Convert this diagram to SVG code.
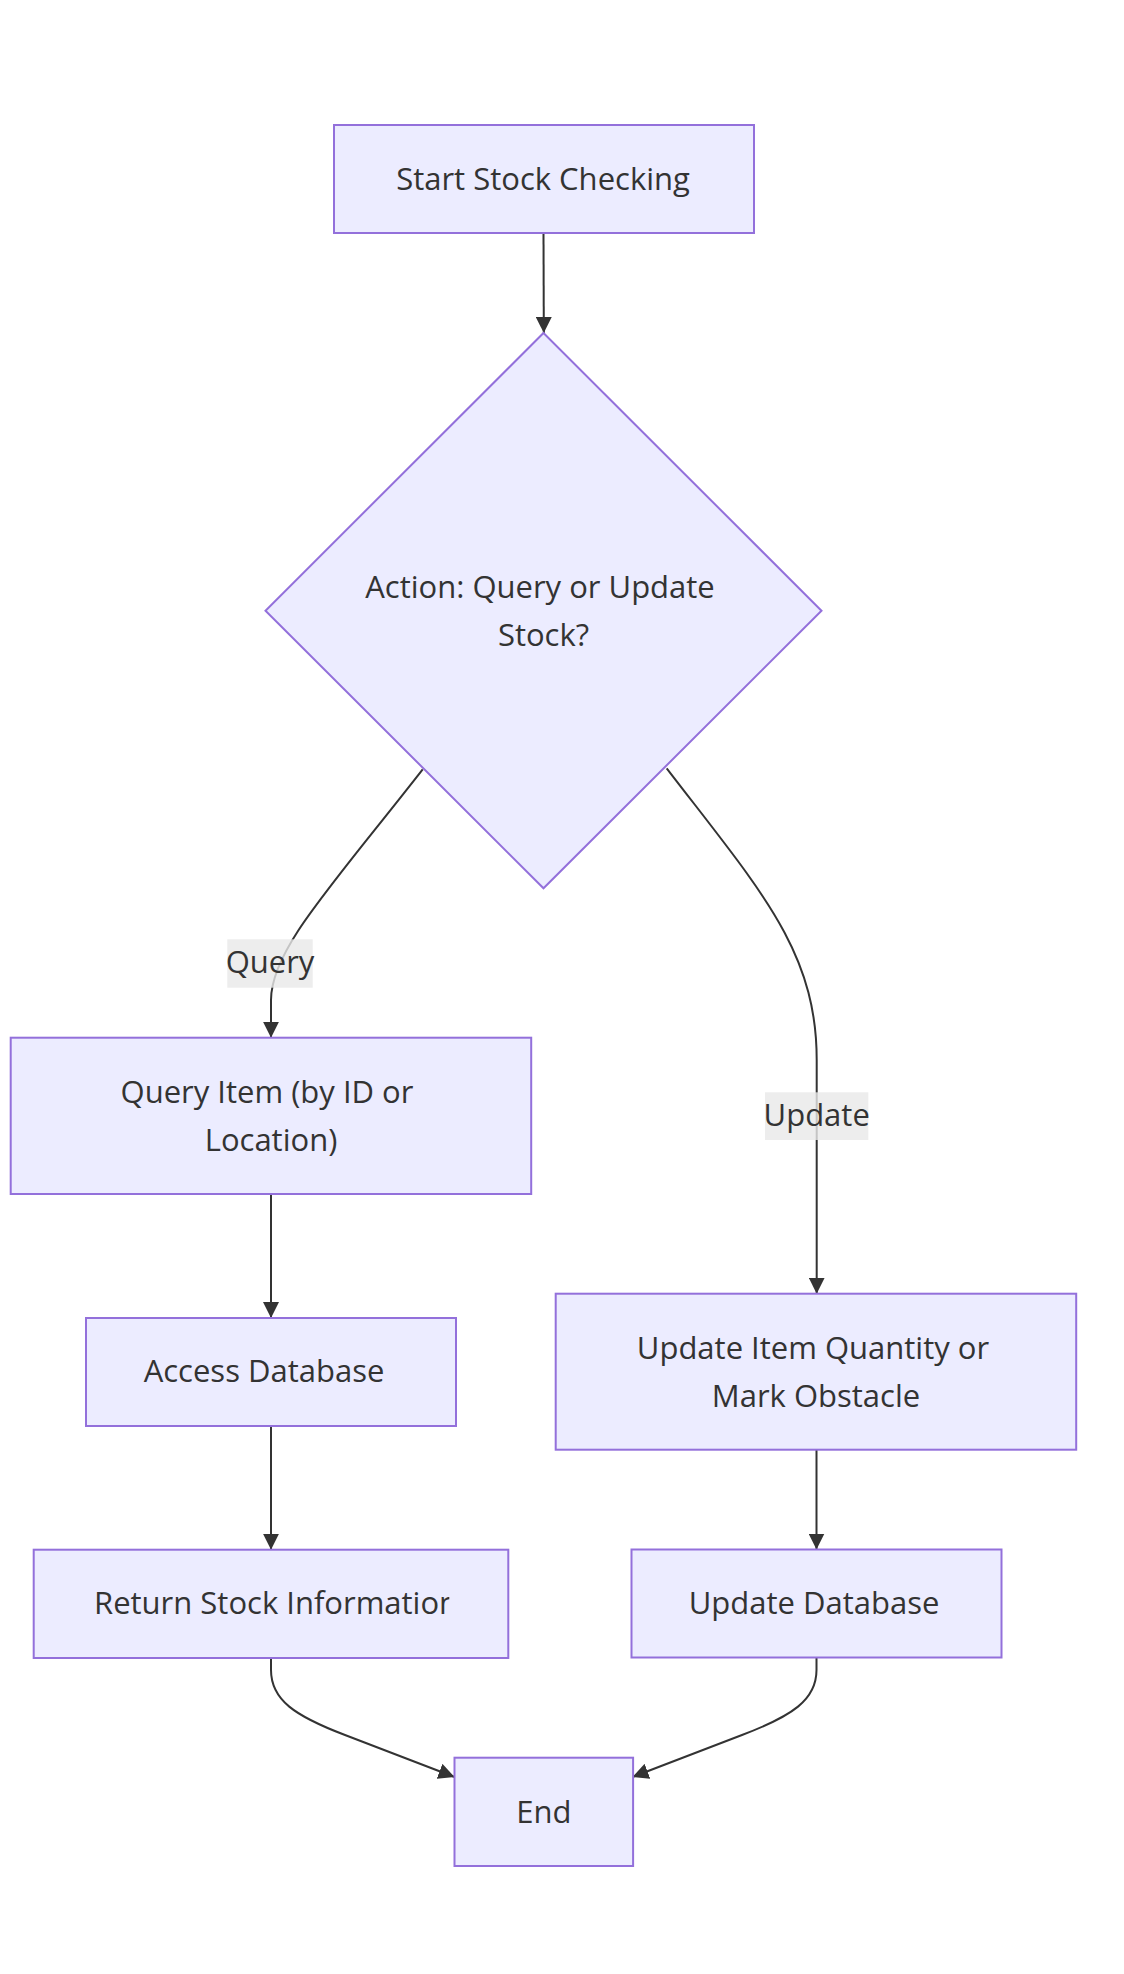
<svg xmlns="http://www.w3.org/2000/svg" width="1124" height="1974" viewBox="0 0 1124 1974">
<style>
.node rect, .node polygon { fill: #ECECFF; stroke: #9370DB; stroke-width: 2; }
.node text { font-family: "Open Sans", "DejaVu Sans", sans-serif; font-size: 31px; fill: #333333; text-anchor: middle; }
.edge { fill: none; stroke: #333333; stroke-width: 2; marker-end: url(#arrow); }
.lbl rect { fill: rgba(232,232,232,0.8); stroke: none; }
.lbl text { font-family: "Open Sans", "DejaVu Sans", sans-serif; font-size: 31px; fill: #333333; text-anchor: middle; }
</style>
<defs>
<marker id="arrow" viewBox="0 0 10 10" refX="10" refY="5" markerUnits="userSpaceOnUse" markerWidth="16" markerHeight="16" orient="auto">
<path d="M0,0 L10,5 L0,10 z" fill="#333333"/>
</marker>
<clipPath id="clipReturn"><rect x="34" y="1550" width="415.3" height="108"/></clipPath>
</defs>
<rect width="1124" height="1974" fill="#ffffff"/>
<g id="edges">
<path class="edge" d="M543.5,232.7 L543.8,333"/>
<path class="edge" d="M422.7,769.3 C330,888 271,950 271,1000 L271,1037.7"/>
<path class="edge" d="M666.7,768.3 C760,890 816.7,950 816.7,1060 L816.7,1293.7"/>
<path class="edge" d="M271,1194 L271,1318"/>
<path class="edge" d="M271,1426 L271,1549.7"/>
<path class="edge" d="M816.5,1449.7 L816.5,1549.5"/>
<path class="edge" d="M271,1658 L271,1670 C271,1700 295,1716 345,1735 L454.5,1777"/>
<path class="edge" d="M816.5,1657 L816.5,1670 C816.5,1700 792,1716 742,1735 L632.5,1777"/>
</g>
<g id="edge-labels">
<g class="lbl" id="label-query">
<rect x="227.3" y="939.3" width="85.4" height="48.4"/>
<text x="270" y="973.3">Query</text>
</g>
<g class="lbl" id="label-update">
<rect x="765" y="1092.3" width="103.3" height="47.7"/>
<text x="816.7" y="1125.7">Update</text>
</g>
</g>
<g class="node" id="start">
<rect x="334" y="125" width="420" height="108"/>
<text x="543" y="190">Start Stock Checking</text>
</g>
<g class="node" id="decision">
<polygon points="543.5,333 821.5,610.7 543.5,888.3 265.5,610.7"/>
<text x="540" y="597.5">Action: Query or Update</text>
<text x="543.5" y="645.5">Stock?</text>
</g>
<g class="node" id="query-item">
<rect x="10.7" y="1037.7" width="520.5" height="156.3"/>
<text x="267" y="1103">Query Item (by ID or</text>
<text x="271" y="1150.5">Location)</text>
</g>
<g class="node" id="update-item">
<rect x="555.7" y="1293.7" width="520.5" height="156"/>
<text x="813" y="1358.5">Update Item Quantity or</text>
<text x="816" y="1406.5">Mark Obstacle</text>
</g>
<g class="node" id="access-db">
<rect x="86" y="1318" width="370" height="108"/>
<text x="264" y="1381.7">Access Database</text>
</g>
<g class="node" id="return-info">
<rect x="33.7" y="1549.7" width="474.6" height="108.3"/>
<text x="94" y="1614.3" style="text-anchor:start" clip-path="url(#clipReturn)">Return Stock Information</text>
</g>
<g class="node" id="update-db">
<rect x="631.5" y="1549.5" width="370" height="108"/>
<text x="814" y="1614">Update Database</text>
</g>
<g class="node" id="end">
<rect x="454.5" y="1757.7" width="178.6" height="108.3"/>
<text x="543.8" y="1822.7">End</text>
</g>
</svg>
